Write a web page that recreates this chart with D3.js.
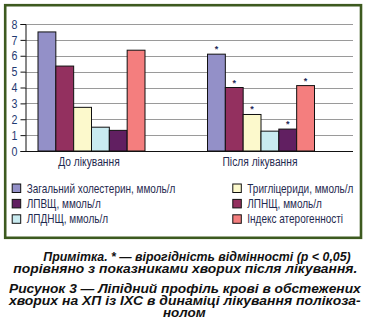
<!DOCTYPE html>
<html><head><meta charset="utf-8">
<script src="https://cdn.jsdelivr.net/npm/d3@7"></script>
<style>
html,body{margin:0;padding:0;background:#fff;}
svg{display:block;}
</style></head>
<body>
<svg id="c" width="368" height="328"></svg>
<script>
const categories = ["До лікування", "Після лікування"];
const seriesNames = ["Загальний холестерин, ммоль/л", "ЛПНЩ, ммоль/л", "Тригліцериди, ммоль/л", "ЛПДНЩ, ммоль/л", "ЛПВЩ, ммоль/л", "Індекс атерогенності"];
const seriesColors = ["#9390c8", "#93305f", "#fcf9cc", "#c9ebf0", "#611f61", "#f47e7e"];
const valuesBefore = [7.5, 5.35, 2.75, 1.5, 1.3, 6.35];
const valuesAfter = [6.1, 4.0, 2.3, 1.25, 1.38, 4.12];
const significantAfter = [true, true, true, false, true, true];
const yTicks = [0, 1, 2, 3, 4, 5, 6, 7, 8];
const legendOrder = [
  ["Загальний холестерин, ммоль/л", "Тригліцериди, ммоль/л"],
  ["ЛПВЩ, ммоль/л", "ЛПНЩ, ммоль/л"],
  ["ЛПДНЩ, ммоль/л", "Індекс атерогенності"]
];
const captionLines = [
  "Примітка. * — вірогідність відмінності (p < 0,05)",
  "порівняно з показниками хворих після лікування.",
  "Рисунок 3 — Ліпідний профіль крові в обстежених",
  "хворих на ХП із ІХС в динаміці лікування полікоза-",
  "нолом"
];

const values = [valuesBefore, valuesAfter];
const font = "'Liberation Sans',Arial,sans-serif";
const condense = 0.82;
const svg = d3.select("#c");

// frame
svg.append("rect").attr("x", 5.2).attr("y", 5.2).attr("width", 355.8).attr("height", 232.6)
  .attr("fill", "#fff").attr("stroke", "#3d5a1f").attr("stroke-width", 2.6);

const plotL = 25, plotR = 353, plotT = 24, plotB = 151;
const y = d3.scaleLinear().domain([0, 8]).range([plotB, plotT]);
const x0 = d3.scalePoint().domain(categories).range([91.5, 261]);
const x1 = d3.scaleBand().domain(d3.range(seriesNames.length)).range([-53.5, 53.5]);

// gridlines
svg.append("g").selectAll("line").data(yTicks.filter(d => d > 0)).join("line")
  .attr("x1", plotL).attr("x2", plotR)
  .attr("y1", d => Math.round(y(d)) + 0.5).attr("y2", d => Math.round(y(d)) + 0.5)
  .attr("stroke", "#9a9a9a").attr("stroke-width", 1);

// y axis
const yAxis = d3.axisLeft(y).tickValues(yTicks).tickSize(5).tickPadding(3);
const ga = svg.append("g").attr("transform", `translate(${plotL + 0.5},0)`).call(yAxis);
ga.select(".domain").attr("stroke", "#111");
ga.selectAll(".tick line").attr("stroke", "#111");
ga.selectAll(".tick text").attr("font-family", font).attr("font-size", 13).attr("fill", "#1f3a72")
  .attr("transform", `scale(${condense},1)`).attr("x", -8 / condense);

// bars
const groups = svg.append("g").selectAll("g").data(categories).join("g")
  .attr("transform", c => `translate(${x0(c)},0)`);
groups.each(function (c, ci) {
  const g = d3.select(this);
  const items = values[ci].map((v, i) => ({ v, i }));
  g.selectAll("rect").data(items).join("rect")
    .attr("x", d => x1(d.i))
    .attr("y", d => y(d.v))
    .attr("width", x1.bandwidth())
    .attr("height", d => y(0) - y(d.v))
    .attr("fill", d => seriesColors[d.i])
    .attr("stroke", "#111").attr("stroke-width", 1);
  if (ci === 1) {
    g.selectAll("text.star").data(items.filter(d => significantAfter[d.i])).join("text")
      .attr("class", "star")
      .attr("x", d => x1(d.i) + x1.bandwidth() / 2)
      .attr("y", d => y(d.v) - 2)
      .attr("text-anchor", "middle")
      .attr("font-family", font)
      .attr("font-size", 9).attr("font-weight", "bold").attr("fill", "#1f2a5a")
      .text("*");
  }
});

// x axis line
svg.append("line").attr("x1", plotL).attr("x2", plotR).attr("y1", plotB + 0.5).attr("y2", plotB + 0.5)
  .attr("stroke", "#111").attr("stroke-width", 1.2);

// category labels
svg.append("g").selectAll("g").data(categories).join("g")
  .attr("transform", (c, i) => `translate(${x0(c) - (i === 0 ? 2.5 : 1)},166) scale(${condense},1)`)
  .append("text")
  .attr("text-anchor", "middle")
  .attr("font-family", font).attr("font-size", 12.5).attr("fill", "#1f2a50")
  .text(c => c);

// legend
const colX = [11.7, 232.3];
const rowY = [188.2, 203.6, 219];
legendOrder.forEach((row, ri) => {
  row.forEach((name, ci) => {
    const si = seriesNames.indexOf(name);
    const g = svg.append("g").attr("transform", `translate(${colX[ci]},${rowY[ri]})`);
    g.append("rect").attr("x", 0.5).attr("y", -4.2).attr("width", 8.5).attr("height", 8.5)
      .attr("fill", seriesColors[si]).attr("stroke", "#111").attr("stroke-width", 1);
    g.append("g").attr("transform", `translate(15,4.4) scale(${condense},1)`)
      .append("text")
      .attr("font-family", font).attr("font-size", 12.2).attr("fill", "#1f2a50")
      .text(name);
  });
});

// caption
const capY = [261, 272.6, 293.3, 304.9, 316.5];
const capX = [[43.3, 350.7], [13.3, 357.3], [9, 360.7], [9, 360.7], [163, 205.7]];
svg.append("g").selectAll("text").data(captionLines).join("text")
  .attr("x", (d, i) => capX[i][0])
  .attr("y", (d, i) => capY[i])
  .attr("textLength", (d, i) => capX[i][1] - capX[i][0])
  .attr("lengthAdjust", "spacingAndGlyphs")
  .attr("font-family", font)
  .attr("font-size", 13).attr("font-weight", "bold").attr("font-style", "italic")
  .attr("fill", "#111")
  .text(d => d);
</script>
</body></html>
